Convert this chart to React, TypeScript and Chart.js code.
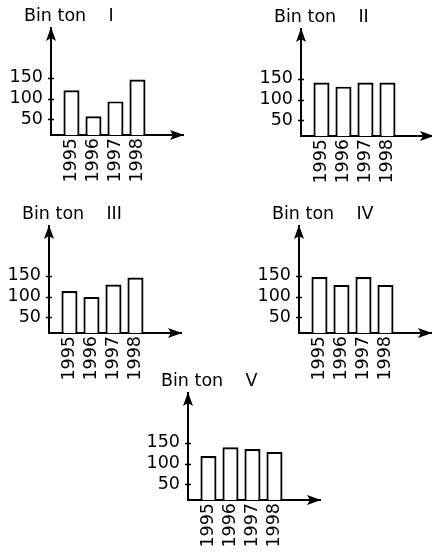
import React, { useEffect, useRef } from 'react';
import { Chart, registerables } from 'chart.js';

Chart.register(...registerables);

const years = ['1995', '1996', '1997', '1998'];
const yTickValues = [50, 100, 150];
const panelNames = ['I', 'II', 'III', 'IV', 'V'];
const valuesI = [120, 57, 93, 146];
const valuesII = [141, 131, 141, 141];
const valuesIII = [113, 99, 129, 146];
const valuesIV = [147, 128, 147, 128];
const valuesV = [118, 139, 135, 128];
const allSeries = [valuesI, valuesII, valuesIII, valuesIV, valuesV];

// page position of each panel's axis origin (y-axis x, arrow top y)
const panelPos = [
  { x: 50.7, y: 28 },
  { x: 301, y: 29.3 },
  { x: 49.3, y: 226 },
  { x: 299.3, y: 226 },
  { x: 188.3, y: 393.3 },
];

const FONT = 'DejaVu Sans';
const FS = 17.5;
const CW = 186;
const CH = 189;
const LEFT_RES = 50;
const TOP_RES = 28;

const arrowPlugin = {
  id: 'arrowPlugin',
  beforeDraw(chart: any) {
    // let the y tick labels extend left of the (narrow) scale box
    chart.scales.y.left = 0;
  },
  afterDraw(chart: any) {
    const { ctx, chartArea: a, scales } = chart;
    ctx.save();
    ctx.fillStyle = '#000';
    ctx.strokeStyle = '#000';
    const xL = a.left;
    const yB = a.bottom;
    // up arrow head
    ctx.beginPath();
    ctx.moveTo(xL, a.top - 1);
    ctx.lineTo(xL - 5, a.top + 13);
    ctx.lineTo(xL, a.top + 10);
    ctx.lineTo(xL + 5, a.top + 13);
    ctx.closePath();
    ctx.fill();
    // right arrow head
    ctx.beginPath();
    ctx.moveTo(a.right + 1, yB);
    ctx.lineTo(a.right - 13, yB - 5);
    ctx.lineTo(a.right - 10, yB);
    ctx.lineTo(a.right - 13, yB + 5);
    ctx.closePath();
    ctx.fill();
    // y tick marks straddling the axis
    ctx.lineWidth = 1.5;
    scales.y.ticks.forEach((t: any) => {
      const py = Math.round(scales.y.getPixelForValue(t.value)) + 0.5;
      ctx.beginPath();
      ctx.moveTo(xL - 3, py);
      ctx.lineTo(xL + 3, py);
      ctx.stroke();
    });
    ctx.restore();
  },
};

function Panel({ idx }: { idx: number }) {
  const ref = useRef<HTMLCanvasElement>(null);
  useEffect(() => {
    const values = allSeries[idx];
    const chart = new Chart(ref.current as HTMLCanvasElement, {
      type: 'bar',
      data: {
        datasets: [
          {
            data: years.map((_, i) => ({ x: i, y: values[i] })),
            backgroundColor: '#ffffff',
            borderColor: '#000000',
            borderWidth: 2.2,
            borderSkipped: false,
            categoryPercentage: 1,
            barPercentage: 0.73,
          } as any,
        ],
      },
      options: {
        animation: false,
        responsive: false,
        events: [],
        layout: { padding: { left: 23, right: 4, top: 0, bottom: 0 } },
        plugins: {
          legend: { display: false },
          tooltip: { enabled: false },
          title: {
            display: true,
            text: 'Bin ton    ' + panelNames[idx],
            align: 'start',
            color: '#000',
            font: { family: FONT, size: FS, weight: 'normal', lineHeight: 1.2 },
            padding: { top: 6, bottom: 1 },
          },
        },
        scales: {
          x: {
            type: 'linear',
            min: -0.93,
            max: 5.07,
            offset: false,
            grid: { display: false, drawTicks: false },
            border: { display: true, color: '#000', width: 2 },
            ticks: {
              autoSkip: false,
              minRotation: 90,
              maxRotation: 90,
              padding: 3,
              color: '#000',
              font: { family: FONT, size: FS },
              callback: (v: any) => years[v as number] ?? '',
            },
            afterBuildTicks: (s: any) => {
              s.ticks = years.map((_, i) => ({ value: i }));
            },
            afterFit: (s: any) => {
              s.height = 54;
            },
          },
          y: {
            type: 'linear',
            min: 12,
            max: 270,
            grid: { display: false, drawTicks: false },
            border: { display: true, color: '#000', width: 2 },
            ticks: {
              padding: 8,
              color: '#000',
              font: { family: FONT, size: FS },
            },
            afterBuildTicks: (s: any) => {
              s.ticks = yTickValues.map((v) => ({ value: v }));
            },
            afterFit: (s: any) => {
              s.width = 27;
            },
          },
        },
      } as any,
      plugins: [arrowPlugin],
    });
    return () => chart.destroy();
  }, [idx]);
  const p = panelPos[idx];
  return (
    <div
      style={{
        position: 'absolute',
        left: p.x - LEFT_RES,
        top: p.y - TOP_RES,
        width: CW,
        height: CH,
      }}
    >
      <canvas ref={ref} width={CW} height={CH} style={{ width: CW, height: CH, display: 'block' }} />
    </div>
  );
}

export default function App() {
  return (
    <div
      style={{
        position: 'fixed',
        left: 0,
        top: 0,
        width: 432,
        height: 552,
        overflow: 'hidden',
        background: '#fff',
      }}
    >
      {panelNames.map((_, i) => (
        <Panel key={i} idx={i} />
      ))}
    </div>
  );
}
